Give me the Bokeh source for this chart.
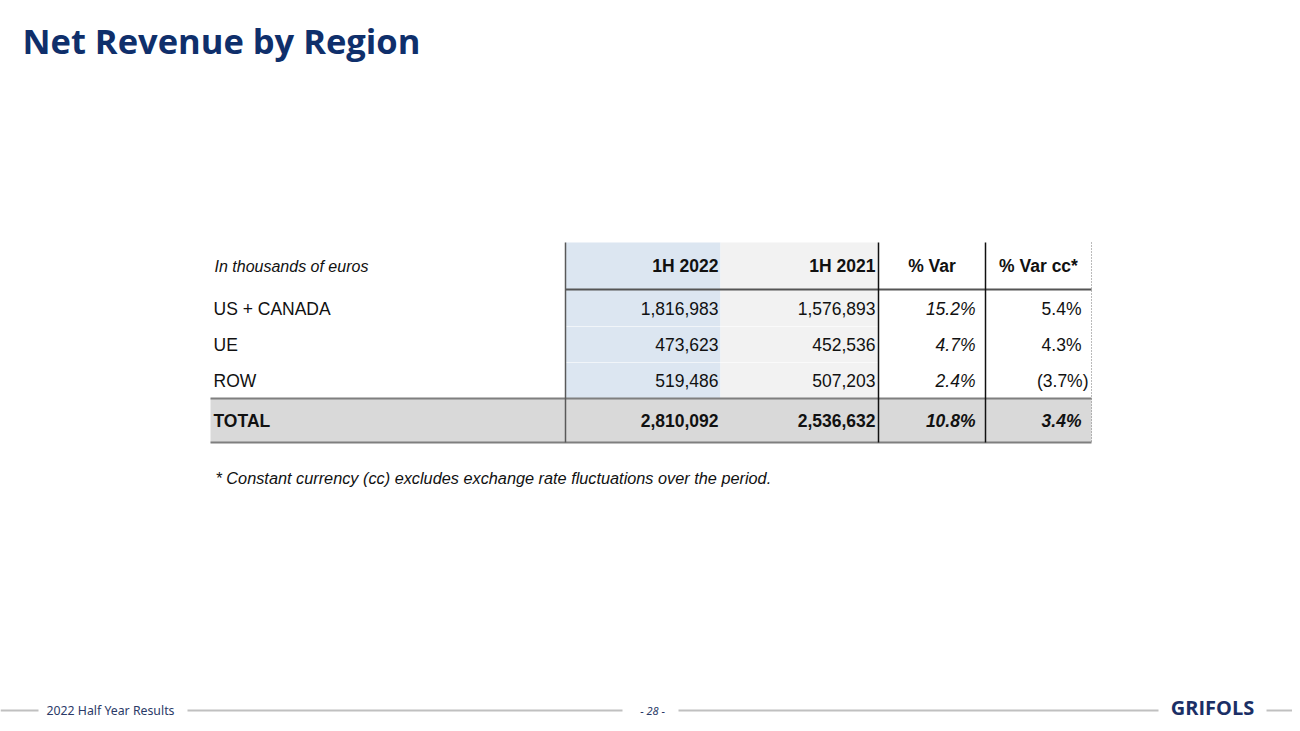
from bokeh.plotting import figure
from bokeh.models import Range1d
from bokeh.core.properties import value
from bokeh.embed import file_html
from bokeh.resources import INLINE

# ---------------- data ----------------
title = "Net Revenue by Region"
unit_label = "In thousands of euros"
headers = ["1H 2022", "1H 2021", "% Var", "% Var cc*"]
regions = ["US + CANADA", "UE", "ROW"]
h1_2022 = [1816983, 473623, 519486]
h1_2021 = [1576893, 452536, 507203]
pct_var = [15.2, 4.7, 2.4]
pct_var_cc = [5.4, 4.3, -3.7]
total_label = "TOTAL"
total_2022 = 2810092
total_2021 = 2536632
total_var = 10.8
total_var_cc = 3.4
footnote = "* Constant currency (cc) excludes exchange rate fluctuations over the period."
footer_left = "2022 Half Year Results"
footer_page = "- 28 -"
footer_brand = "GRIFOLS"

# ---------------- layout / style ----------------
W, H = 1292, 723
FONT = value("Liberation Sans")
NAVY = "#0f2f6b"
TXT = "#111111"
FS = "17.5px"

def fmt_num(v):
    return f"{v:,}"

def fmt_pct(v):
    return f"{v:.1f}%" if v >= 0 else f"({abs(v):.1f}%)"

p = figure(width=W, height=H, output_backend="svg", toolbar_location=None,
           x_range=Range1d(0, W), y_range=Range1d(H, 0),
           min_border=0, min_border_left=0, min_border_right=0,
           min_border_top=0, min_border_bottom=0)
p.axis.visible = False
p.grid.visible = False
p.outline_line_color = None
p.background_fill_color = "white"
p.border_fill_color = "white"

# table geometry
x_left, x_c1, x_c2, x_c3, x_c4, x_right = 210, 565, 720, 878, 985, 1091
y_top, y_head_bot = 242, 289
row_h = 36
y_row0 = 308
y_tot_top, y_tot_bot = 398, 442
y_tot = (y_tot_top + y_tot_bot) / 2

# fills
p.quad(left=[x_c1], right=[x_c2], top=[y_top], bottom=[y_tot_top],
       fill_color="#dce6f1", line_color=None)
p.quad(left=[x_c2], right=[x_c3], top=[y_top], bottom=[y_tot_top],
       fill_color="#f2f2f2", line_color=None)
p.quad(left=[x_left], right=[x_right], top=[y_tot_top], bottom=[y_tot_bot],
       fill_color="#d9d9d9", line_color=None)

# faint row separators inside filled columns
sep_y = [y_row0 + row_h * (i + 0.5) for i in range(len(regions) - 1)]
p.segment(x0=[x_c1] * len(sep_y), x1=[x_c3] * len(sep_y), y0=sep_y, y1=sep_y,
          line_color="white", line_width=1, line_alpha=0.6)

# lines
p.segment(x0=[x_c1], x1=[x_right], y0=[y_head_bot], y1=[y_head_bot],
          line_color="#555555", line_width=2)
p.segment(x0=[x_left, x_left], x1=[x_right, x_right],
          y0=[y_tot_top, y_tot_bot], y1=[y_tot_top, y_tot_bot],
          line_color="#7f7f7f", line_width=2)
p.segment(x0=[x_c1], x1=[x_c1], y0=[y_top], y1=[y_tot_bot],
          line_color="#595959", line_width=1.5)
p.segment(x0=[x_c3, x_c4], x1=[x_c3, x_c4], y0=[y_top, y_top], y1=[y_tot_bot, y_tot_bot],
          line_color="#111111", line_width=1.5)
p.segment(x0=[x_right], x1=[x_right], y0=[y_top], y1=[y_tot_bot],
          line_color="#777777", line_width=1, line_dash="1 2")

# title
p.text(x=[22], y=[40], text=[title], text_font=value("Open Sans"),
       text_font_style="bold", text_font_size="34.5px", text_color=NAVY,
       text_baseline="middle", text_align="left")

# header
y_head = (y_top + y_head_bot) / 2
p.text(x=[214], y=[y_head], text=[unit_label], text_font=FONT, text_font_style="italic",
       text_font_size="16px", text_color=TXT, text_baseline="middle", text_align="left")
head_x = [718, 875, (x_c3 + x_c4) / 2, (x_c4 + x_right) / 2]
head_align = ["right", "right", "center", "center"]
p.text(x=head_x, y=[y_head] * 4, text=headers, text_font=FONT, text_font_style="bold",
       text_font_size="17.5px", text_color=TXT, text_baseline="middle",
       text_align=head_align)

# body rows
row_y = [y_row0 + row_h * i for i in range(len(regions))]
p.text(x=[213] * len(regions), y=row_y, text=regions, text_font=FONT,
       text_font_size=FS, text_color=TXT, text_baseline="middle", text_align="left")
p.text(x=[718] * len(regions), y=row_y, text=[fmt_num(v) for v in h1_2022], text_font=FONT,
       text_font_size=FS, text_color=TXT, text_baseline="middle", text_align="right")
p.text(x=[875] * len(regions), y=row_y, text=[fmt_num(v) for v in h1_2021], text_font=FONT,
       text_font_size=FS, text_color=TXT, text_baseline="middle", text_align="right")
p.text(x=[975] * len(regions), y=row_y, text=[fmt_pct(v) for v in pct_var], text_font=FONT,
       text_font_style="italic", text_font_size=FS, text_color=TXT,
       text_baseline="middle", text_align="right")
cc_txt = [fmt_pct(v) for v in pct_var_cc]
cc_x = [1088 if t.endswith(")") else 1081 for t in cc_txt]
p.text(x=cc_x, y=row_y, text=cc_txt, text_font=FONT,
       text_font_size=FS, text_color=TXT, text_baseline="middle", text_align="right")

# total row
p.text(x=[213], y=[y_tot], text=[total_label], text_font=FONT, text_font_style="bold",
       text_font_size=FS, text_color=TXT, text_baseline="middle", text_align="left")
p.text(x=[718, 875], y=[y_tot, y_tot], text=[fmt_num(total_2022), fmt_num(total_2021)],
       text_font=FONT, text_font_style="bold", text_font_size=FS, text_color=TXT,
       text_baseline="middle", text_align="right")
p.text(x=[975, 1081], y=[y_tot, y_tot], text=[fmt_pct(total_var), fmt_pct(total_var_cc)],
       text_font=FONT, text_font_style="bold italic", text_font_size=FS,
       text_color=TXT, text_baseline="middle", text_align="right")

# footnote
p.text(x=[215], y=[477], text=[footnote], text_font=FONT, text_font_style="italic",
       text_font_size="16.3px", text_color=TXT, text_baseline="middle", text_align="left")

# footer
y_f = 710
p.segment(x0=[0, 187, 678, 1266], x1=[38, 622, 1158, W], y0=[y_f] * 4, y1=[y_f] * 4,
          line_color="#c0c0c0", line_width=2)
p.text(x=[46], y=[y_f], text=[footer_left], text_font=value("Noto Sans"),
       text_font_size="12.3px", text_color="#2b3a67", text_baseline="middle", text_align="left")
p.text(x=[652], y=[y_f], text=[footer_page], text_font=value("Noto Sans"),
       text_font_size="11px", text_font_style="italic", text_color="#2b3a67",
       text_baseline="middle", text_align="center")
p.text(x=[1212], y=[707], text=[footer_brand], text_font=value("Open Sans"),
       text_font_style="bold", text_font_size="20px", text_color="#1b2f66",
       text_baseline="middle", text_align="center")

open("out.html", "w").write(file_html(p, INLINE))
